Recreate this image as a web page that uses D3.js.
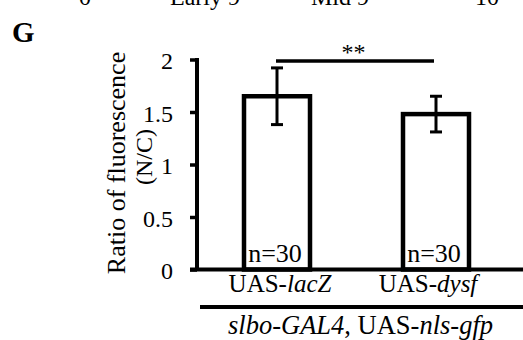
<!DOCTYPE html>
<html>
<head>
<meta charset="utf-8">
<script src="https://cdn.jsdelivr.net/npm/d3@7"></script>
<style>
  body { margin: 0; background: #fff; }
  text { font-family: "Liberation Serif", Tinos, "Times New Roman", serif; }
</style>
</head>
<body>
<div id="chart"></div>
<script>
// data
const genes = ["lacZ", "dysf"];          // UAS-<gene>
const means = [1.65, 1.48];
const errs = [0.27, 0.17];
const counts = [30, 30];
const yTicks = [0, 0.5, 1, 1.5, 2];
// cut-off labels of the panel above
const topLabels = ["0", "Early 9", "Mid 9", "10"];
const topLabelX = [85, 205, 340, 487];

const width = 523, height = 340;
const serif = "Liberation Serif, Tinos, Times New Roman, serif";

const svg = d3.select("#chart").append("svg")
  .attr("width", width)
  .attr("height", height)
  .attr("font-family", serif);

svg.append("rect").attr("width", width).attr("height", height).attr("fill", "#fff");

const y = d3.scaleLinear().domain([0, 2]).range([269.5, 59.5]);
const x = d3.scalePoint().domain(genes).range([277, 436]);
const barW = 66;

// top fragments (bottoms of the labels of the panel above)
svg.append("g").selectAll("text")
  .data(topLabels)
  .join("text")
  .attr("x", (d, i) => topLabelX[i])
  .attr("y", 5)
  .attr("text-anchor", "middle")
  .attr("font-size", 24)
  .text(d => d);

// panel letter
svg.append("text")
  .attr("x", 12).attr("y", 42)
  .attr("font-size", 29).attr("font-weight", "bold")
  .text("G");

// y axis
const yAxis = svg.append("g")
  .attr("transform", "translate(197,0)")
  .call(d3.axisLeft(y).tickValues(yTicks).tickSize(7).tickPadding(17)
    .tickFormat(d3.format("")));
yAxis.attr("font-family", serif);
yAxis.select(".domain").remove();
yAxis.selectAll(".tick line").attr("stroke", "#000").attr("stroke-width", 3.5);
yAxis.selectAll(".tick text")
  .attr("font-size", 24)
  .attr("fill", "#000")
  .attr("dy", "0.38em");
svg.append("line")
  .attr("x1", 197).attr("x2", 197)
  .attr("y1", y(2) - 1.5).attr("y2", y(0))
  .attr("stroke", "#000").attr("stroke-width", 4);

// bars
svg.append("g").selectAll("rect")
  .data(genes)
  .join("rect")
  .attr("x", d => x(d) - barW / 2)
  .attr("y", (d, i) => y(means[i]))
  .attr("width", barW)
  .attr("height", (d, i) => y(0) - y(means[i]))
  .attr("fill", "#fff")
  .attr("stroke", "#000")
  .attr("stroke-width", 4.5);

// error bars
const eb = svg.append("g").attr("stroke", "#000").attr("stroke-width", 3);
genes.forEach((g, i) => {
  const cx = x(g);
  eb.append("line").attr("x1", cx).attr("x2", cx)
    .attr("y1", y(means[i] + errs[i])).attr("y2", y(means[i] - errs[i]));
  [means[i] + errs[i], means[i] - errs[i]].forEach(v => {
    eb.append("line").attr("x1", cx - 6).attr("x2", cx + 6)
      .attr("y1", y(v)).attr("y2", y(v));
  });
});

// n labels
svg.append("g").selectAll("text")
  .data(counts)
  .join("text")
  .attr("x", (d, i) => x(genes[i]) - 2)
  .attr("y", 262)
  .attr("text-anchor", "middle")
  .attr("font-size", 26)
  .text(d => "n=" + d);

// x axis line
svg.append("line")
  .attr("x1", 190).attr("x2", width)
  .attr("y1", y(0)).attr("y2", y(0))
  .attr("stroke", "#000").attr("stroke-width", 4);

// significance
svg.append("line")
  .attr("x1", x(genes[0]) - 1).attr("x2", x(genes[1]) - 2)
  .attr("y1", 61).attr("y2", 61)
  .attr("stroke", "#000").attr("stroke-width", 3.5);
svg.append("text")
  .attr("x", (x(genes[0]) + x(genes[1])) / 2 - 3)
  .attr("y", 60)
  .attr("text-anchor", "middle")
  .attr("font-size", 24)
  .text("**");

// x labels
const xl = svg.append("g").selectAll("text")
  .data(genes)
  .join("text")
  .attr("x", d => x(d) + (d === "dysf" ? -8 : 3))
  .attr("y", 292)
  .attr("text-anchor", "middle")
  .attr("font-size", 25);
xl.append("tspan").text("UAS-");
xl.append("tspan").attr("font-style", "italic").text(d => d);

// genotype bracket
svg.append("line")
  .attr("x1", 200).attr("x2", width)
  .attr("y1", 307).attr("y2", 307)
  .attr("stroke", "#000").attr("stroke-width", 4);
const gt = svg.append("text")
  .attr("x", 228).attr("y", 334)
  .attr("font-size", 26.5);
gt.append("tspan").attr("font-style", "italic").text("slbo-GAL4");
gt.append("tspan").text(", UAS-");
gt.append("tspan").attr("font-style", "italic").text("nls-gfp");

// y title
svg.append("text")
  .attr("transform", "translate(125,163) rotate(-90)")
  .attr("text-anchor", "middle")
  .attr("font-size", 26)
  .text("Ratio of fluorescence");
svg.append("text")
  .attr("transform", "translate(152,157) rotate(-90)")
  .attr("text-anchor", "middle")
  .attr("font-size", 24)
  .text("(N/C)");
</script>
</body>
</html>
